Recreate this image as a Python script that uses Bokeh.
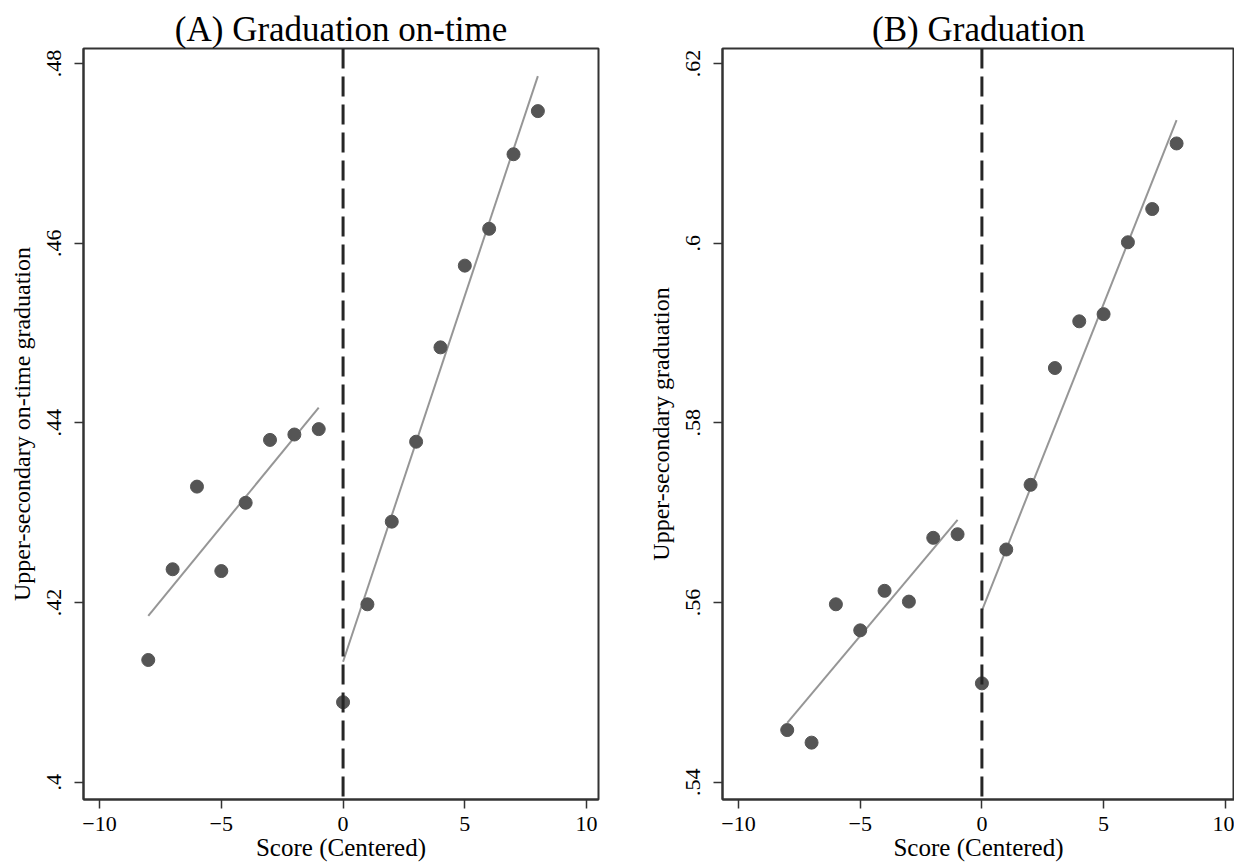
from bokeh.plotting import figure
from bokeh.layouts import row
from bokeh.models import Range1d, FixedTicker, CustomJSTickFormatter, Span
from bokeh.embed import file_html
from bokeh.resources import INLINE

# ---- data ----
score = [-8, -7, -6, -5, -4, -3, -2, -1, 0, 1, 2, 3, 4, 5, 6, 7, 8]
grad_ontime = [0.4136, 0.4237, 0.4329, 0.4235, 0.4311, 0.4381, 0.4387, 0.4393,
               0.4089, 0.4198, 0.4290, 0.4379, 0.4484, 0.4575, 0.4616, 0.4699, 0.4747]
grad = [0.5458, 0.5444, 0.5598, 0.5569, 0.5613, 0.5601, 0.5672, 0.5676,
        0.5510, 0.5659, 0.5731, 0.5861, 0.5913, 0.5921, 0.6001, 0.6038, 0.6111]

fit_left_x = [-8, -1]
fit_right_x = [0, 8]
fit_ontime_left = [0.4185, 0.4417]
fit_ontime_right = [0.4134, 0.4786]
fit_grad_left = [0.5466, 0.5692]
fit_grad_right = [0.5591, 0.6137]

cutoff = 0
x_ticks = [-10, -5, 0, 5, 10]
y_ticks_ontime = [0.40, 0.42, 0.44, 0.46, 0.48]
y_ticks_grad = [0.54, 0.56, 0.58, 0.60, 0.62]

titles = ["(A) Graduation on-time", "(B) Graduation"]
y_labels = ["Upper-secondary on-time graduation", "Upper-secondary graduation"]
x_label = "Score (Centered)"

FONT = "Liberation Serif"
AXIS_COL = "#333333"
DOT_COL = "#555555"
FIT_COL = "#969696"

yfmt = CustomJSTickFormatter(code="""
var s = tick.toFixed(2);
if (s.indexOf('0.') === 0) { s = s.substring(1); }
s = s.replace(/0+$/, '').replace(/\\.$/, '');
return s;
""")


def panel(title, ylabel, yvals, fitL, fitR, yticks, yrange, xrange, width, mbr):
    p = figure(width=width, height=866, output_backend="svg", toolbar_location=None,
               x_range=Range1d(*xrange), y_range=Range1d(*yrange),
               min_border_left=83, min_border_right=mbr, min_border_top=48,
               min_border_bottom=67, background_fill_color="white",
               border_fill_color="white")
    p.title.text = title
    p.title.align = "center"
    p.title.text_font = FONT
    p.title.text_font_size = "35px"
    p.title.text_font_style = "normal"
    p.title.text_color = "black"
    p.title.standoff = 0
    p.title.offset = 0

    p.grid.visible = False
    p.outline_line_color = AXIS_COL
    p.outline_line_width = 2
    p.outline_line_alpha = 1

    for ax in (p.xaxis[0], p.yaxis[0]):
        ax.axis_line_color = AXIS_COL
        ax.axis_line_width = 2
        ax.major_tick_line_color = AXIS_COL
        ax.major_tick_line_width = 1.5
        ax.major_tick_in = 0
        ax.major_tick_out = 9
        ax.minor_tick_line_color = None
        ax.major_label_text_font = FONT
        ax.major_label_text_font_size = "22px"
        ax.major_label_text_color = "black"
        ax.axis_label_text_font = FONT
        ax.axis_label_text_font_style = "normal"
        ax.axis_label_text_color = "black"

    p.xaxis.ticker = FixedTicker(ticks=x_ticks)
    p.xaxis.axis_label = x_label
    p.xaxis.axis_label_text_font_size = "25px"
    p.xaxis.major_label_standoff = 8
    p.xaxis.axis_label_standoff = 0

    p.yaxis.ticker = FixedTicker(ticks=yticks)
    p.yaxis.formatter = yfmt
    p.yaxis.major_label_orientation = "vertical"
    p.yaxis.axis_label = ylabel
    p.yaxis.axis_label_text_font_size = "24px"
    p.yaxis.major_label_standoff = 13
    p.yaxis.axis_label_standoff = 10

    p.add_layout(Span(location=cutoff, dimension="height", line_color="#262626",
                      line_width=3, line_dash="20 8"))

    p.line(fit_left_x, fitL, line_color=FIT_COL, line_width=2)
    p.line(fit_right_x, fitR, line_color=FIT_COL, line_width=2)
    p.scatter(score, yvals, size=13, fill_color=DOT_COL, line_color=DOT_COL)
    return p


pa = panel(titles[0], y_labels[0], grad_ontime, fit_ontime_left, fit_ontime_right,
           y_ticks_ontime, (0.39807, 0.48167), (-10.66, 10.49), 639, 41)
pb = panel(titles[1], y_labels[1], grad, fit_grad_left, fit_grad_right,
           y_ticks_grad, (0.53807, 0.62167), (-10.66, 10.38), 595, 0)

layout = row(pa, pb)
open("out.html", "w").write(file_html(layout, INLINE))
